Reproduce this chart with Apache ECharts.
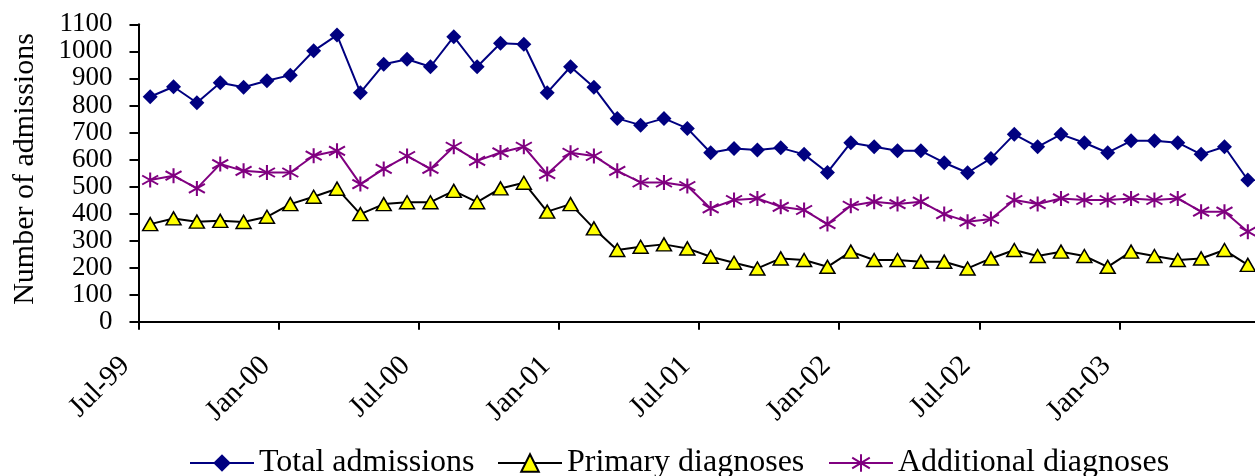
<!DOCTYPE html>
<html>
<head>
<meta charset="utf-8">
<title>Number of admissions</title>
<script src="https://cdn.jsdelivr.net/npm/echarts@6/dist/echarts.min.js"></script>
<style>
  html, body { margin: 0; padding: 0; background: #fff; }
  #chart { width: 1255px; height: 476px; }
</style>
</head>
<body>
<div id="chart"></div>
<script>
// Monthly categories, July 1999 to June 2003
const months = [
  'Jul-99','Aug-99','Sep-99','Oct-99','Nov-99','Dec-99',
  'Jan-00','Feb-00','Mar-00','Apr-00','May-00','Jun-00',
  'Jul-00','Aug-00','Sep-00','Oct-00','Nov-00','Dec-00',
  'Jan-01','Feb-01','Mar-01','Apr-01','May-01','Jun-01',
  'Jul-01','Aug-01','Sep-01','Oct-01','Nov-01','Dec-01',
  'Jan-02','Feb-02','Mar-02','Apr-02','May-02','Jun-02',
  'Jul-02','Aug-02','Sep-02','Oct-02','Nov-02','Dec-02',
  'Jan-03','Feb-03','Mar-03','Apr-03','May-03','Jun-03'
];

const totalAdmissions = [
  832, 869, 810, 884, 867, 891,
  912, 1002, 1060, 847, 952, 971,
  943, 1054, 943, 1030, 1026, 847,
  943, 867, 752, 727, 752, 715,
  625, 641, 635, 643, 619, 552,
  662, 647, 632, 632, 588, 551,
  604, 693, 647, 693, 662, 625,
  669, 669, 662, 619, 647, 524
];

const primaryDiagnoses = [
  361, 382, 370, 373, 369, 388,
  435, 462, 492, 398, 435, 442,
  442, 484, 442, 493, 514, 407,
  435, 345, 265, 277, 286, 271,
  240, 218, 197, 234, 228, 203,
  259, 228, 228, 222, 222, 197,
  234, 265, 243, 259, 243, 203,
  259, 243, 228, 234, 265, 210
];

const additionalDiagnoses = [
  524, 540, 493, 583, 558, 552,
  552, 614, 632, 509, 565, 613,
  565, 647, 595, 626, 647, 546,
  625, 613, 558, 515, 515, 502,
  419, 450, 456, 425, 413, 361,
  429, 444, 435, 444, 398, 370,
  380, 450, 435, 456, 450, 450,
  456, 450, 456, 407, 407, 333
];

const yTicks = { min: 0, max: 1100, step: 100 };

const FONT = '"Liberation Serif", "Times New Roman", serif';
const NAVY = '#000080';
const PURPLE = '#800080';

// asterisk marker: vertical stroke crossed by two diagonals
const starPath = 'path://M10,0L10,20M0,4L20,16M0,16L20,4';

const chart = echarts.init(document.getElementById('chart'), null, { renderer: 'canvas' });

function legendBlock(name, left) {
  return {
    data: [name],
    left: left,
    top: 447,
    padding: 0,
    orient: 'horizontal',
    itemWidth: 64,
    itemHeight: 22,
    itemGap: 0,
    selectedMode: false,
    lineStyle: { width: 2 },
    textStyle: { fontFamily: FONT, fontSize: 32, color: '#000' }
  };
}

chart.setOption({
  animation: false,
  backgroundColor: '#fff',
  grid: {
    left: 138.5,
    top: 24.3,
    width: 1121,
    height: 297.4,
    containLabel: false,
    outerBoundsMode: 'none'
  },
  legend: [
    legendBlock('Total admissions', 189),
    legendBlock('Primary diagnoses', 497),
    legendBlock('Additional diagnoses', 828)
  ],
  xAxis: {
    type: 'category',
    data: months,
    boundaryGap: true,
    axisLine: { show: true, lineStyle: { color: '#000', width: 2 } },
    axisTick: { show: true, interval: 5, length: 8, inside: false, lineStyle: { color: '#000', width: 2 } },
    axisLabel: {
      show: true,
      interval: 5,
      rotate: 45,
      margin: 15,
      padding: [0, 35, 0, 0],
      fontFamily: FONT,
      fontSize: 29,
      color: '#000'
    },
    splitLine: { show: false }
  },
  yAxis: {
    type: 'value',
    min: yTicks.min,
    max: yTicks.max,
    interval: yTicks.step,
    name: 'Number of admissions',
    nameLocation: 'middle',
    nameGap: 98,
    nameRotate: 90,
    nameTextStyle: { fontFamily: FONT, fontSize: 30, color: '#000', padding: [0, 0, 0, 8] },
    axisLine: { show: true, lineStyle: { color: '#000', width: 2 } },
    axisTick: { show: true, length: 9, inside: false, lineStyle: { color: '#000', width: 2 } },
    axisLabel: {
      margin: 26,
      fontFamily: FONT,
      fontSize: 27,
      color: '#000',
      formatter: function (v) { return String(v); }
    },
    splitLine: { show: false }
  },
  series: [
    {
      name: 'Total admissions',
      type: 'line',
      data: totalAdmissions,
      symbol: 'diamond',
      symbolSize: [15, 15],
      showAllSymbol: true,
      color: NAVY,
      lineStyle: { color: NAVY, width: 2 },
      itemStyle: { color: NAVY, borderColor: NAVY, borderWidth: 0 }
    },
    {
      name: 'Primary diagnoses',
      type: 'line',
      data: primaryDiagnoses,
      symbol: 'triangle',
      symbolSize: [15, 13],
      showAllSymbol: true,
      color: '#000',
      lineStyle: { color: '#000', width: 2 },
      itemStyle: { color: '#FFFF00', borderColor: '#000', borderWidth: 1.5 }
    },
    {
      name: 'Additional diagnoses',
      type: 'line',
      data: additionalDiagnoses,
      symbol: starPath,
      symbolSize: [16, 15],
      showAllSymbol: true,
      color: PURPLE,
      lineStyle: { color: PURPLE, width: 2 },
      itemStyle: { color: PURPLE, borderColor: PURPLE, borderWidth: 2 }
    }
  ]
});
</script>
</body>
</html>
